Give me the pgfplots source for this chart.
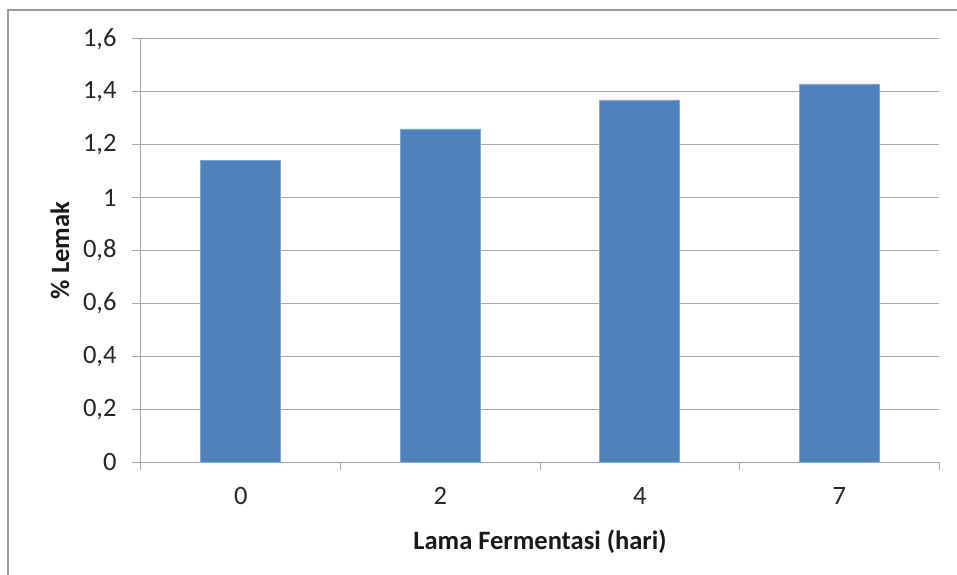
\documentclass[border=0pt]{standalone}
\usepackage{pgfplots}
\pgfplotsset{compat=1.18}
\usepackage{fontspec}
\setmainfont{Carlito}
\definecolor{barblue}{HTML}{4F81BD}
\definecolor{gridgray}{HTML}{A6A6A6}
\definecolor{framegray}{HTML}{9A9A9A}

\begin{document}
\begin{tikzpicture}
\useasboundingbox (-141bp,-113bp) rectangle (816bp,462bp);
% outer chart frame
\draw[framegray, line width=1.2bp] (-133bp,-113bp) -- (-133bp,452bp) -- (816bp,452bp);
\begin{axis}[
  at={(0,0)}, anchor=south west,
  scale only axis,
  width=798bp, height=423bp,
  xmin=-0.5, xmax=3.5,
  ymin=0, ymax=1.6,
  axis x line*=bottom, axis y line*=left,
  axis line style={gridgray, line width=1bp, -},
  xtick={0,1,2,3},
  xticklabels={0,2,4,7},
  minor xtick={-0.5,0.5,1.5,2.5,3.5},
  major x tick style={draw=none},
  minor x tick style={gridgray, line width=1bp},
  minor tick length=8bp,
  ytick={0,0.2,...,1.6},
  y tick style={gridgray, line width=1bp},
  major tick length=9bp,
  tick align=outside,
  ymajorgrids,
  major grid style={gridgray, line width=1bp},
  /pgf/number format/use comma,
  /pgf/number format/fixed,
  /pgf/number format/precision=1,
  /pgf/number format/assume math mode=true,
  ticklabel style={font=\fontsize{26.5bp}{31bp}\selectfont, text=black!85},
  yticklabel style={xshift=-12bp},
  xticklabel style={yshift=-13bp},
  xlabel={Lama Fermentasi (hari)},
  ylabel={\% Lemak},
  label style={font=\fontsize{26.5bp}{31bp}\selectfont\bfseries, text=black!90},
  xlabel style={at={(axis description cs:0.5,0)}, anchor=center, yshift=-80bp},
  ylabel style={at={(axis description cs:0,0.5)}, anchor=center, yshift=81bp},
  clip=false,
]
\addplot[ybar, bar width=80bp, fill=barblue, draw=barblue!70!white, line width=0.6bp] coordinates {
  (0,1.14) (1,1.26) (2,1.37) (3,1.43)
};
\end{axis}
\end{tikzpicture}
\end{document}
